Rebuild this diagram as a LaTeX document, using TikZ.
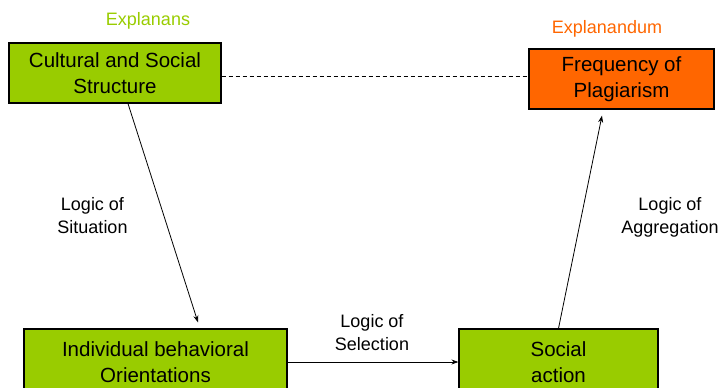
\documentclass[tikz,border=0pt]{standalone}
\usepackage{fontspec}
\setmainfont{Liberation Sans}
\usetikzlibrary{arrows.meta}
\definecolor{boxgreen}{HTML}{99CC00}
\definecolor{boxorange}{HTML}{FF6600}
\begin{document}
\begin{tikzpicture}[x=1pt,y=-1pt,
  box/.style={draw=black,line width=1.2pt,inner sep=0pt,align=center,
    font=\fontsize{20.5}{26}\selectfont},
  lbl/.style={align=center,font=\fontsize{18}{23}\selectfont},
  arr/.style={-{Stealth[length=7pt,width=5pt]},line width=0.8pt},
  conn/.style={dashed,line width=0.8pt,dash pattern=on 4pt off 3pt}]
\useasboundingbox (0,0) rectangle (723,388);
\clip (0,0) rectangle (723,388);
\node[box,fill=boxgreen,minimum width=212pt,minimum height=60pt] (b1) at (115,73) {Cultural and Social\\Structure};
\node[box,fill=boxorange,minimum width=185pt,minimum height=60pt] (b2) at (621.5,79) {Frequency of\\Plagiarism};
\node[box,fill=boxgreen,minimum width=263pt,minimum height=66pt] (b3) at (155.5,362) {Individual behavioral\\Orientations};
\node[box,fill=boxgreen,minimum width=199pt,minimum height=66pt] (b4) at (558.5,362) {Social\\action};
\node[lbl,text=boxgreen] (t1) at (148,21) {Explanans};
\node[lbl,text=boxorange] (t2) at (607,29) {Explanandum};
\node[lbl] (l1) at (92.5,216) {Logic of\\Situation};
\node[lbl] (l2) at (372,333) {Logic of\\Selection};
\node[lbl] (l3) at (670,217) {Logic of\\Aggregation};
\draw[conn] (b1.east |- 0,76) -- (b2.west |- 0,76);
\draw[arr] ([xshift=13pt]b1.south) -- ([xshift=42.5pt,yshift=6pt]b3.north);
\draw[arr] (b3.east) -- (b4.west);
\draw[arr] (b4.north) -- ([xshift=-19.5pt,yshift=-6pt]b2.south);
\end{tikzpicture}
\end{document}
